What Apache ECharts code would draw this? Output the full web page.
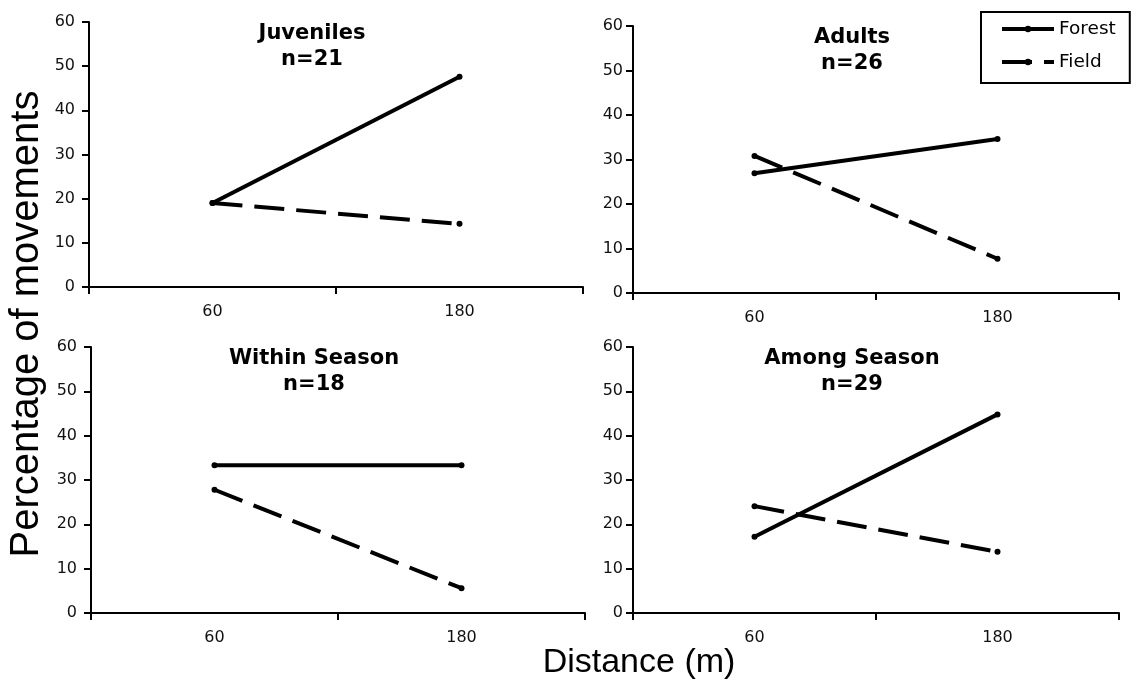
<!DOCTYPE html>
<html>
<head>
<meta charset="utf-8">
<script src="https://cdn.jsdelivr.net/npm/echarts@6/dist/echarts.min.js"></script>
<style>
  html, body { margin: 0; padding: 0; background: #fff; }
  #chart { width: 1133px; height: 694px; }
</style>
</head>
<body>
<div id="chart"></div>
<script>
// Percentage of movements by distance class, forest vs field, four groups
const distances = ['60', '180'];
const panelTitles = ['Juveniles', 'Adults', 'Within Season', 'Among Season'];
const sampleSizes = [21, 26, 18, 29];
const forestPct = [
  [19.0, 47.6],
  [26.9, 34.6],
  [33.3, 33.3],
  [17.2, 44.8]
];
const fieldPct = [
  [19.0, 14.3],
  [30.8, 7.7],
  [27.8, 5.6],
  [24.1, 13.8]
];
const yMin = 0, yMax = 60, yStep = 10;

// panel boxes (plot areas) in pixels
const boxes = [
  { left: 89,  top: 22,  width: 494, height: 265, labelGap: 14 },
  { left: 633, top: 26,  width: 486, height: 267, labelGap: 10 },
  { left: 91,  top: 347, width: 494, height: 266, labelGap: 14 },
  { left: 633, top: 347, width: 486, height: 266, labelGap: 10 }
];

const ink = '#000';
const tickFont = { fontFamily: 'DejaVu Sans', fontSize: 16, color: '#111' };
const dash = [30, 12];

const grids = [], xAxes = [], yAxes = [], series = [], graphics = [];

boxes.forEach((b, i) => {
  grids.push({ left: b.left, top: b.top, width: b.width, height: b.height,
               containLabel: false, outerBoundsMode: 'none' });
  xAxes.push({
    type: 'category', gridIndex: i, data: distances, boundaryGap: true,
    axisLine: { show: true, lineStyle: { color: ink, width: 2 } },
    axisTick: { show: true, length: 7, lineStyle: { color: ink, width: 2 } },
    axisLabel: Object.assign({ margin: 17 }, tickFont),
    splitLine: { show: false }
  });
  yAxes.push({
    type: 'value', gridIndex: i, min: yMin, max: yMax, interval: yStep,
    axisLine: { show: true, lineStyle: { color: ink, width: 2 } },
    axisTick: { show: true, length: 7, lineStyle: { color: ink, width: 2 } },
    axisLabel: Object.assign({ margin: b.labelGap }, tickFont),
    splitLine: { show: false }
  });
  series.push({
    name: 'Forest', type: 'line', xAxisIndex: i, yAxisIndex: i,
    data: forestPct[i], symbol: 'circle', symbolSize: 6,
    itemStyle: { color: ink },
    lineStyle: { color: ink, width: 4, type: 'solid' },
    emphasis: { disabled: true }, silent: true, animation: false
  });
  series.push({
    name: 'Field', type: 'line', xAxisIndex: i, yAxisIndex: i,
    data: fieldPct[i], symbol: 'circle', symbolSize: 6,
    itemStyle: { color: ink },
    lineStyle: { color: ink, width: 4, type: dash, cap: 'butt' },
    emphasis: { disabled: true }, silent: true, animation: false
  });
  // panel heading, two lines
  graphics.push({
    type: 'text',
    x: b.left + b.width / 2 - 24,
    y: b.top + 25,
    style: {
      text: panelTitles[i] + '\nn=' + sampleSizes[i],
      font: 'bold 21px "DejaVu Sans"',
      lineHeight: 26,
      fill: ink,
      align: 'center',
      verticalAlign: 'middle'
    }
  });
});

graphics.push({
  type: 'text', x: 27, y: 324, rotation: Math.PI / 2,
  style: {
    text: 'Percentage of movements', font: '40px "Liberation Sans"',
    fill: ink, align: 'center', verticalAlign: 'middle'
  }
});
graphics.push({
  type: 'text', x: 639, y: 663,
  style: {
    text: 'Distance (m)', font: '34px "Liberation Sans"',
    fill: ink, align: 'center', verticalAlign: 'middle'
  }
});

const chart = echarts.init(document.getElementById('chart'), null, { renderer: 'canvas' });
chart.setOption({
  animation: false,
  backgroundColor: '#fff',
  grid: grids,
  xAxis: xAxes,
  yAxis: yAxes,
  series: series,
  legend: {
    data: [
      { name: 'Forest', lineStyle: { width: 4, color: ink, type: 'solid' } },
      { name: 'Field', lineStyle: { width: 4, color: ink, type: dash, cap: 'butt' } }
    ],
    orient: 'vertical',
    left: 981, top: 12,
    itemWidth: 52, itemHeight: 8, itemGap: 13,
    padding: [7, 14, 11, 19],
    borderColor: ink, borderWidth: 2, backgroundColor: '#fff',
    textStyle: { fontFamily: 'DejaVu Sans', fontSize: 18.5, color: ink, lineHeight: 20 },
    selectedMode: false
  },
  graphic: graphics
});
</script>
</body>
</html>
